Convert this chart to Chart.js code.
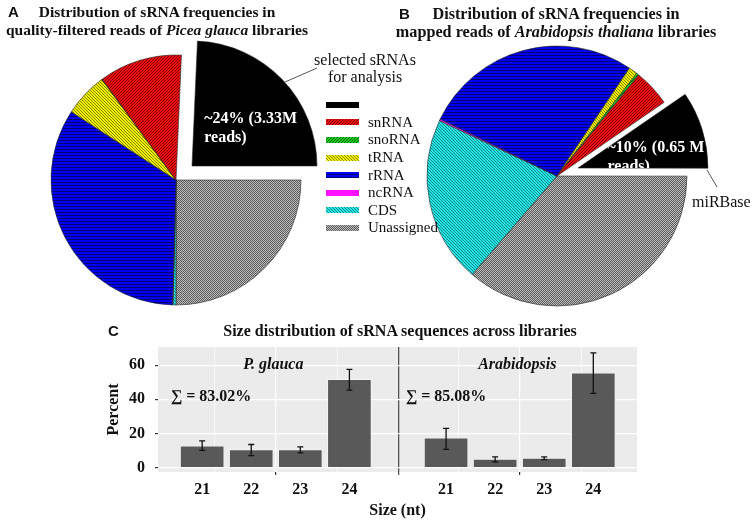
<!DOCTYPE html>
<html>
<head>
  <title>sRNA frequencies and size distribution</title>
  <script src="https://cdn.jsdelivr.net/npm/chart.js"></script>
  <style>
    body { margin: 0; width: 754px; height: 521px; overflow: hidden; background: #fff; position: relative; font-family: "Liberation Serif", "Times New Roman", serif; color: #111; }
    .box { position: absolute; }
    .title { position: absolute; font-weight: bold; font-size: 15.5px; line-height: 18px; white-space: nowrap; text-align: center; transform: translateX(-50%); z-index: 5; }
    .tag { position: absolute; font-family: "Liberation Sans", Arial, sans-serif; font-weight: bold; font-size: 15px; line-height: 18px; z-index: 5; }
    .note { position: absolute; font-size: 16px; line-height: 17px; white-space: nowrap; z-index: 5; }
    #legend { position: absolute; left: 326px; top: 96px; z-index: 5; }
    .item { height: 17.6px; display: flex; align-items: center; font-size: 15px; white-space: nowrap; }
    .swatch { width: 33px; height: 6px; margin-right: 9px; image-rendering: pixelated; }
    svg { position: absolute; left: 0; top: 0; z-index: 4; }
  </style>
</head>
<body>
  <div class="tag" style="left:8px; top:3px;">A</div>
  <div class="title" style="left:157px; top:3px;">Distribution of sRNA frequencies in<br>quality-filtered reads of <i>Picea glauca</i> libraries</div>
  <div class="tag" style="left:399px; top:5px;">B</div>
  <div class="title" style="left:556px; top:5px; font-size:16.2px;">Distribution of sRNA frequencies in<br>mapped reads of <i>Arabidopsis thaliana</i> libraries</div>
  <div class="tag" style="left:108px; top:322px;">C</div>
  <div class="title" style="left:400px; top:322px; font-size:16px;">Size distribution of sRNA sequences across libraries</div>
  <div class="note" style="left:365px; top:51px; text-align:center; transform:translateX(-50%);">selected sRNAs<br>for analysis</div>
  <div class="note" style="left:692px; top:193px;">miRBase</div>
  <div id="legend"></div>
  <svg width="754" height="521">
    <line x1="285" y1="82" x2="317" y2="68" stroke="#555" stroke-width="1"/>
    <line x1="707" y1="170" x2="717" y2="187" stroke="#555" stroke-width="1"/>
  </svg>

  <div class="box" style="left:6px; top:30px; width:340px; height:300px;"><canvas id="pieA"></canvas></div>
  <div class="box" style="left:21.7px; top:15.7px; width:340px; height:300px;"><canvas id="pieAsel"></canvas></div>
  <div class="box" style="left:387px; top:26px; width:340px; height:300px;"><canvas id="pieB"></canvas></div>
  <div class="box" style="left:408.3px; top:18.3px; width:340px; height:300px;"><canvas id="pieBsel"></canvas></div>
  <div class="box" style="left:95px; top:340px; width:560px; height:181px;"><canvas id="sizeChart"></canvas></div>

  <script>
    // pie slices, clockwise from the exploded slice
    const classes = ['selected', 'Unassigned', 'CDS', 'ncRNA', 'rRNA', 'tRNA', 'snoRNA', 'snRNA'];
    const piceaPct = [24.3, 25.0, 0.4, 0.05, 33.75, 5.7, 0.05, 10.75];
    const arabPiePct = [9.6, 36.3, 20.7, 0.2, 27.2, 1.1, 0.3, 4.6];
    const piceaSelText = ['~24% (3.33M', 'reads)'];
    const arabSelText = ['~10% (0.65 M', 'reads)'];
    const legendOrder = ['selected', 'snRNA', 'snoRNA', 'tRNA', 'rRNA', 'ncRNA', 'CDS', 'Unassigned'];

    // size distribution (percent, with error bar ends)
    const sizes = [21, 22, 23, 24];
    const glaucaPct = [12.7, 10.5, 10.5, 51.6];
    const glaucaLo = [10.1, 7.0, 8.6, 45.3];
    const glaucaHi = [15.6, 13.5, 12.1, 57.5];
    const arabPct = [17.4, 5.0, 5.6, 55.5];
    const arabLo = [10.7, 3.3, 4.7, 43.4];
    const arabHi = [22.9, 6.2, 6.2, 67.2];
    const facetNames = ['P. glauca', 'Arabidopsis'];
    const sumLabels = ['\u2211 = 83.02%', '\u2211 = 85.08%'];
    const yTicks = [0, 10, 20, 30, 40, 50, 60, 70];

    const facetShift = 4.97;            // second facet drawn to the right on the same x scale
    const gridPos = [21.25, 22.5, 23.75];

    function makeTile(bg, fg, kind) {
      const n = kind === 'check' ? 2 : 3;
      const c = document.createElement('canvas');
      c.width = n; c.height = n;
      const g = c.getContext('2d');
      g.fillStyle = bg; g.fillRect(0, 0, n, n);
      g.fillStyle = fg;
      if (kind === 'horiz') g.fillRect(0, 2, n, 1);
      if (kind === 'diag') { g.fillRect(0, 2, 1, 1); g.fillRect(1, 1, 1, 1); g.fillRect(2, 0, 1, 1); }
      if (kind === 'back') { g.fillRect(0, 0, 1, 1); g.fillRect(1, 1, 1, 1); g.fillRect(2, 2, 1, 1); }
      if (kind === 'check') { g.fillRect(0, 0, 1, 1); g.fillRect(1, 1, 1, 1); }
      return c;
    }

    const tiles = {
      selected: null,
      Unassigned: makeTile('#bdbdbd', '#5a5a5a', 'check'),
      CDS: makeTile('#26e6e6', '#118888', 'back'),
      ncRNA: makeTile('#ff10ff', '#ff10ff', 'plain'),
      rRNA: makeTile('#0000f0', '#000070', 'horiz'),
      tRNA: makeTile('#f0f000', '#8a8a00', 'back'),
      snoRNA: makeTile('#22cc22', '#006600', 'diag'),
      snRNA: makeTile('#f41010', '#800000', 'diag')
    };
    const patCtx = document.createElement('canvas').getContext('2d');
    const fills = classes.map(k => tiles[k] ? patCtx.createPattern(tiles[k], 'repeat') : '#000');

    // legend
    const legend = document.getElementById('legend');
    legendOrder.forEach(k => {
      const row = document.createElement('div');
      row.className = 'item';
      const sw = document.createElement('div');
      sw.className = 'swatch';
      if (tiles[k]) sw.style.backgroundImage = 'url(' + tiles[k].toDataURL() + ')';
      else sw.style.background = '#000';
      row.appendChild(sw);
      row.appendChild(document.createTextNode(k === 'selected' ? '' : k));
      legend.appendChild(row);
    });

    function sliceText(lines, dx, dy, lh) {
      return {
        id: 'sliceText',
        afterDatasetsDraw(chart) {
          const arc = chart.getDatasetMeta(0).data[0];
          const c = chart.ctx;
          c.save();
          c.beginPath();
          c.moveTo(arc.x, arc.y);
          c.arc(arc.x, arc.y, arc.outerRadius, arc.startAngle, arc.endAngle);
          c.closePath();
          c.clip();
          c.fillStyle = '#fff';
          c.font = 'bold 16px "Liberation Serif"';
          c.textBaseline = 'middle';
          lines.forEach((t, i) => c.fillText(t, arc.x + dx, arc.y + dy + i * lh));
          c.restore();
        }
      };
    }

    // sel = true draws only the exploded slice, otherwise everything else
    function makePie(id, values, radius, rotation, sel, plugins) {
      const shown = i => (i === 0) === sel;
      return new Chart(document.getElementById(id), {
        type: 'pie',
        data: {
          labels: classes,
          datasets: [{
            data: values,
            radius: radius,
            rotation: rotation,
            backgroundColor: ctx => shown(ctx.dataIndex) ? fills[ctx.dataIndex] : 'rgba(0,0,0,0)',
            borderColor: ctx => shown(ctx.dataIndex) ? '#2a2a2a' : 'rgba(0,0,0,0)',
            borderWidth: ctx => shown(ctx.dataIndex) ? 0.6 : 0
          }]
        },
        options: {
          responsive: true,
          maintainAspectRatio: false,
          animation: false,
          events: [],
          layout: { padding: 0 },
          plugins: { legend: { display: false }, tooltip: { enabled: false } }
        },
        plugins: plugins || []
      });
    }

    makePie('pieA', piceaPct, 125, 2.5, false);
    makePie('pieAsel', piceaPct, 125, 2.5, true, [sliceText(piceaSelText, 12.3, -47, 19)]);
    makePie('pieB', arabPiePct, 130, 55.5, false);
    makePie('pieBsel', arabPiePct, 130, 55.5, true, [sliceText(arabSelText, 29.5, -20, 19.3)]);

    // ----- panel C -----
    const near = (a, b) => Math.abs(a - b) < 0.01;
    const labelPos = sizes.concat(sizes.map(s => s + facetShift));
    const majorGrid = [22.5, 22.5 + facetShift];
    const gridAll = gridPos.concat(gridPos.map(g => g + facetShift));
    const dividerPos = 25.0;
    const xTickVals = labelPos.concat(gridAll, [dividerPos]).sort((a, b) => a - b);
    const tickVal = ctx => (ctx && ctx.tick) ? ctx.tick.value : NaN;

    function xLabel(v) {
      const i = labelPos.findIndex(p => near(p, v));
      return i < 0 ? '' : String(sizes[i % sizes.length]);
    }
    function xGridColor(v) {
      if (near(v, dividerPos)) return '#555';
      return gridAll.some(g => near(g, v)) ? '#ffffff' : 'rgba(0,0,0,0)';
    }
    function xGridWidth(v) {
      if (near(v, dividerPos)) return 1.3;
      return majorGrid.some(g => near(g, v)) ? 1.2 : 0.7;
    }
    function xTickColor(v) {
      if (near(v, dividerPos)) return '#555';
      return majorGrid.some(g => near(g, v)) ? '#333' : 'rgba(0,0,0,0)';
    }
    function noPad(s) {
      s.paddingTop = 0; s.paddingBottom = 0; s.paddingLeft = 0; s.paddingRight = 0;
    }

    const panelPlugin = {
      id: 'panel',
      beforeDraw(chart) {
        const a = chart.chartArea, c = chart.ctx;
        c.save();
        c.fillStyle = '#ebebeb';
        c.fillRect(a.left, a.top, a.right - a.left, a.bottom - a.top);
        c.restore();
      },
      afterDatasetsDraw(chart) {
        const c = chart.ctx, x = chart.scales.x, y = chart.scales.y;
        c.save();
        c.strokeStyle = '#111';
        c.lineWidth = 1.3;
        [[glaucaLo, glaucaHi], [arabLo, arabHi]].forEach(([lo, hi], d) => {
          chart.getDatasetMeta(d).data.forEach((bar, i) => {
            const top = y.getPixelForValue(hi[i]), bot = y.getPixelForValue(lo[i]);
            c.beginPath();
            c.moveTo(bar.x, top); c.lineTo(bar.x, bot);
            c.moveTo(bar.x - 3, top); c.lineTo(bar.x + 3, top);
            c.moveTo(bar.x - 3, bot); c.lineTo(bar.x + 3, bot);
            c.stroke();
          });
        });
        c.fillStyle = '#111';
        c.textBaseline = 'middle';
        c.textAlign = 'center';
        c.font = 'italic bold 16px "Liberation Serif"';
        facetNames.forEach((t, f) => c.fillText(t, x.getPixelForValue(22.45 + f * facetShift), y.getPixelForValue(60)));
        c.textAlign = 'left';
        c.font = 'bold 16px "Liberation Serif"';
        sumLabels.forEach((t, f) => c.fillText(t, x.getPixelForValue(f ? 25.15 : 20.36), y.getPixelForValue(41.6)));
        c.restore();
      }
    };

    const barStyle = {
      backgroundColor: '#595959',
      borderColor: '#f4f4f4',
      borderWidth: 1,
      barThickness: 44,
      grouped: false
    };

    new Chart(document.getElementById('sizeChart'), {
      type: 'bar',
      data: {
        datasets: [
          Object.assign({ label: facetNames[0], data: sizes.map((s, i) => ({ x: s, y: glaucaPct[i] })) }, barStyle),
          Object.assign({ label: facetNames[1], data: sizes.map((s, i) => ({ x: s + facetShift, y: arabPct[i] })) }, barStyle)
        ]
      },
      options: {
        responsive: true,
        maintainAspectRatio: false,
        animation: false,
        events: [],
        layout: { padding: { top: 7, right: 18, bottom: 0, left: 0 } },
        plugins: { legend: { display: false }, tooltip: { enabled: false } },
        scales: {
          x: {
            type: 'linear',
            offset: false,
            min: 20.1,
            max: 29.86,
            afterBuildTicks: s => { s.ticks = xTickVals.map(v => ({ value: v })); },
            afterFit: s => { s.height = 49; noPad(s); },
            border: { display: false },
            grid: {
              offset: false,
              color: ctx => xGridColor(tickVal(ctx)),
              lineWidth: ctx => xGridWidth(tickVal(ctx)),
              tickColor: ctx => xTickColor(tickVal(ctx)),
              tickLength: 3
            },
            ticks: {
              autoSkip: false,
              maxRotation: 0,
              padding: 5,
              color: '#111',
              font: { family: 'Liberation Serif', size: 16, weight: 'bold' },
              callback: v => xLabel(v)
            },
            title: {
              display: true,
              text: 'Size (nt)',
              color: '#111',
              font: { family: 'Liberation Serif', size: 16, weight: 'bold' },
              padding: { top: 1, bottom: 1 }
            }
          },
          y: {
            min: -2.6,
            max: 70.6,
            afterBuildTicks: s => { s.ticks = yTicks.map(v => ({ value: v })); },
            afterFit: s => { s.width = 63; noPad(s); },
            border: { display: false },
            grid: {
              color: '#ffffff',
              lineWidth: ctx => tickVal(ctx) % 20 === 0 ? 1.2 : 0.6,
              tickColor: ctx => tickVal(ctx) % 20 === 0 ? '#333' : 'rgba(0,0,0,0)',
              tickLength: 3
            },
            ticks: {
              padding: 10,
              color: '#111',
              font: { family: 'Liberation Serif', size: 16, weight: 'bold' },
              callback: v => v % 20 === 0 ? v : ''
            },
            title: {
              display: true,
              text: 'Percent',
              color: '#111',
              font: { family: 'Liberation Serif', size: 16, weight: 'bold' },
              padding: { top: 9, bottom: 0 }
            }
          }
        }
      },
      plugins: [panelPlugin]
    });
  </script>
</body>
</html>
